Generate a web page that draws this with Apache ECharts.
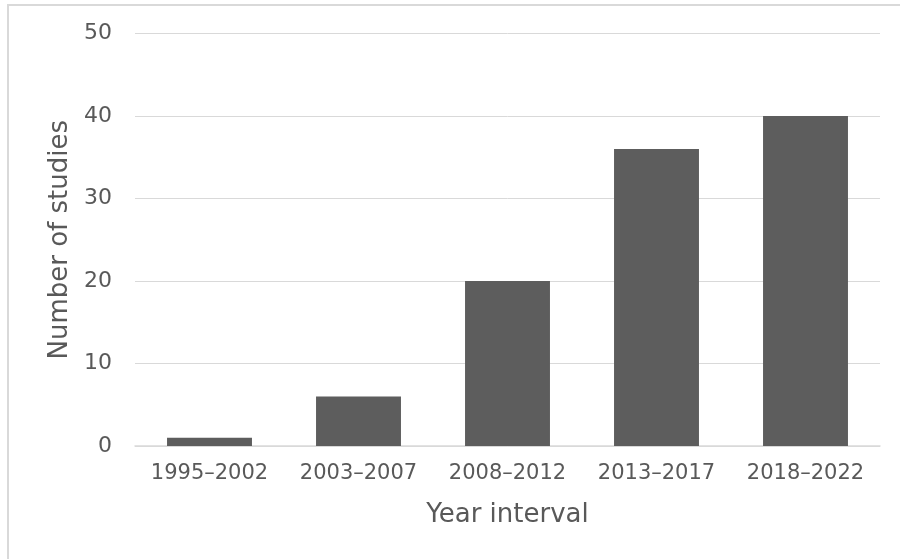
<!DOCTYPE html>
<html>
<head>
<meta charset="utf-8">
<title>Number of studies by year interval</title>
<script src="https://cdn.jsdelivr.net/npm/echarts@6/dist/echarts.min.js"></script>
<style>
  html, body { margin: 0; padding: 0; background: #ffffff; }
  #chart { width: 900px; height: 559px; }
</style>
</head>
<body>
<div id="chart"></div>
<script>
// Studies counted per publication interval
const yearIntervals = ['1995–2002', '2003–2007', '2008–2012', '2013–2017', '2018–2022'];
const studyCounts = [1, 6, 20, 36, 40];
const yTicks = { min: 0, max: 50, interval: 10 };

const textColor = '#595959';
const gridColor = '#d9d9d9';
const font = '"DejaVu Sans", Verdana, sans-serif';

const chart = echarts.init(document.getElementById('chart'), null, { renderer: 'canvas' });

chart.setOption({
  backgroundColor: '#ffffff',
  animation: false,
  graphic: [
    {
      type: 'polyline',
      silent: true,
      shape: { points: [[8, 600], [8, 5], [900, 5]] },
      style: { fill: null, stroke: gridColor, lineWidth: 2 }
    }
  ],
  grid: { left: 135, right: 20, top: 33.5, bottom: 113, containLabel: false },
  xAxis: {
    type: 'category',
    data: yearIntervals,
    name: 'Year interval',
    nameLocation: 'middle',
    nameGap: 56,
    nameTextStyle: { color: textColor, fontSize: 26, fontFamily: font },
    axisLine: { show: true, lineStyle: { color: gridColor, width: 1.5 } },
    axisTick: { show: false },
    axisLabel: { color: textColor, fontSize: 21, fontFamily: font, margin: 17, interval: 0 }
  },
  yAxis: {
    type: 'value',
    min: yTicks.min,
    max: yTicks.max,
    interval: yTicks.interval,
    name: 'Number of studies',
    nameLocation: 'middle',
    nameGap: 62,
    nameTextStyle: { color: textColor, fontSize: 26, fontFamily: font },
    axisLine: { show: false },
    axisTick: { show: false },
    axisLabel: { color: textColor, fontSize: 22, fontFamily: font, margin: 23 },
    splitLine: { show: true, lineStyle: { color: gridColor, width: 1 } }
  },
  series: [
    {
      type: 'bar',
      data: studyCounts,
      barWidth: '57%',
      itemStyle: { color: '#5d5d5d' },
      silent: true
    }
  ]
});
</script>
</body>
</html>
